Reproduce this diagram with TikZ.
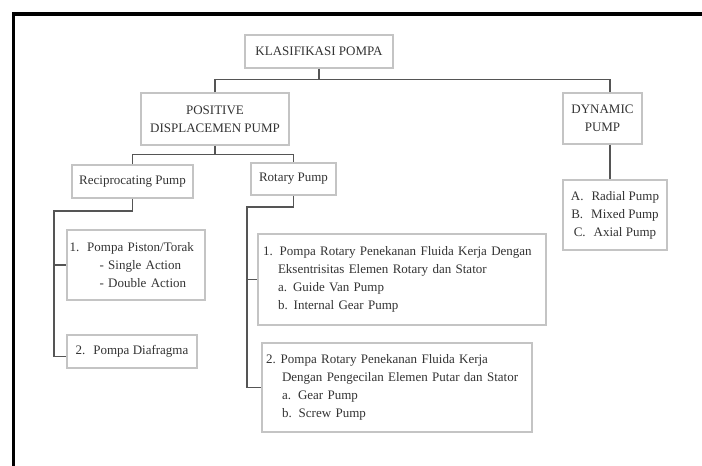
\documentclass[tikz,border=0pt]{standalone}
\usepackage{fontspec}
\setmainfont{Liberation Serif}
\usepackage{tikz}
\usepackage{xcolor}
\usetikzlibrary{positioning}
\definecolor{boxline}{HTML}{C4C4C4}
\definecolor{linkline}{HTML}{555555}
\hyphenpenalty=10000

\begin{document}
\begin{tikzpicture}[x=1pt,y=-1pt,
    box/.style={draw=boxline,line width=1.1pt,fill=white,inner sep=0pt,
        font=\fontsize{13}{18}\selectfont,text=black!80},
    link/.style={draw=linkline,line width=1.8pt}]
    \useasboundingbox (0,0) rectangle (702,466);
    \draw[line width=3.5pt] (13.5,466)--(13.5,14)--(702,14);

    \node[box,minimum width=148pt,minimum height=33pt] (klas) at (319,51.5) {KLASIFIKASI POMPA};
    \node[box,align=center,minimum width=148pt,minimum height=52pt] (pos) at (215,119) {POSITIVE\\DISPLACEMEN PUMP};
    \node[box,align=center,minimum width=79pt,minimum height=51pt] (dyn) at (602.5,118.5) {DYNAMIC\\PUMP};
    \node[box,minimum width=121pt,minimum height=33pt] (recip) at (132.5,181.5) {Reciprocating Pump};
    \node[box,minimum width=85pt,minimum height=32pt] (rotary) at (293.5,179) {Rotary Pump};
    \node[box,align=center,minimum width=104pt,minimum height=70pt] (radial) at (615,215)
        {A.\hspace{8pt}Radial Pump\\B.\hspace{8pt}Mixed Pump\\C.\hspace{8pt}Axial Pump};
    \node[box,align=left,text width=133pt,inner xsep=2.5pt,minimum height=70pt] (piston) at (136,265)
        {1.\hspace*{8pt}Pompa Piston/Torak\\
         \hspace*{30pt}- Single Action\\
         \hspace*{30pt}- Double Action};
    \node[box,minimum width=130pt,minimum height=33pt] (diaf) at (132,351.5) {2.\hspace{8pt}Pompa Diafragma};
    \node[box,align=left,text width=278pt,inner xsep=5pt,minimum height=91pt] (rot1) at (402,279.5)
        {1.\hspace*{7pt}Pompa Rotary Penekanan Fluida Kerja Dengan\\
         \hspace*{15pt}Eksentrisitas Elemen Rotary dan Stator\\
         \hspace*{15pt}a.\hspace*{6pt}Guide Van Pump\\
         \hspace*{15pt}b.\hspace*{6pt}Internal Gear Pump};
    \node[box,align=left,text width=262pt,inner xsep=4pt,minimum height=89pt] (rot2) at (397,387.5)
        {2.\hspace*{5pt}Pompa Rotary Penekanan Fluida Kerja\\
         \hspace*{16pt}Dengan Pengecilan Elemen Putar dan Stator\\
         \hspace*{16pt}a.\hspace*{7pt}Gear Pump\\
         \hspace*{16pt}b.\hspace*{7pt}Screw Pump};

    % connectors
    \draw[link] (klas.south)--++(0,11) coordinate (k1);
    \draw[link] (pos.north) |- (k1) -| ([xshift=7.5pt]dyn.north);
    \draw[link] ([xshift=7.5pt]dyn.south)--([xshift=7.5pt]dyn.south |- radial.north);
    \draw[link] (pos.south)--++(0,9) coordinate (p1);
    \draw[link] (recip.north) |- (p1) -| (rotary.north);
    \coordinate (r1) at (54,211);
    \draw[link] (recip.south) |- (r1) |- ([yshift=-5pt]diaf.west);
    \draw[link] (r1 |- piston.west)--(piston.west);
    \coordinate (r2) at (247,207);
    \draw[link] (rotary.south) |- (r2) |- (rot2.west);
    \draw[link] (r2 |- rot1.west)--(rot1.west);
\end{tikzpicture}
\end{document}
